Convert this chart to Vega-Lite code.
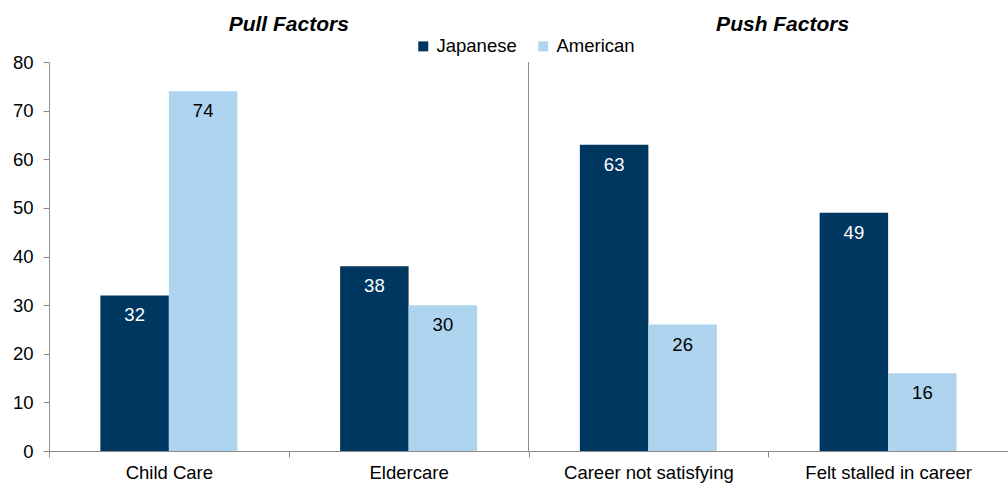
{
  "$schema": "https://vega.github.io/schema/vega-lite/v6.json",
  "width": 959,
  "height": 389,
  "autosize": {"type": "none"},
  "padding": {"left": 49, "top": 62, "right": 0, "bottom": 32},
  "background": "white",
  "config": {
    "view": {"stroke": null},
    "font": "Liberation Sans",
    "axis": {"labelFont": "Liberation Sans", "labelColor": "#000000", "domainColor": "#8c8c8c", "tickColor": "#8c8c8c", "grid": false, "title": null}
  },
  "data": {
    "values": [
      {"cat": "Child Care", "series": "Japanese", "value": 32},
      {"cat": "Child Care", "series": "American", "value": 74},
      {"cat": "Eldercare", "series": "Japanese", "value": 38},
      {"cat": "Eldercare", "series": "American", "value": 30},
      {"cat": "Career not satisfying", "series": "Japanese", "value": 63},
      {"cat": "Career not satisfying", "series": "American", "value": 26},
      {"cat": "Felt stalled in career", "series": "Japanese", "value": 49},
      {"cat": "Felt stalled in career", "series": "American", "value": 16}
    ]
  },
  "layer": [
    {
      "mark": {"type": "bar"},
      "encoding": {
        "x": {
          "field": "cat", "type": "nominal",
          "sort": ["Child Care", "Eldercare", "Career not satisfying", "Felt stalled in career"],
          "scale": {"paddingInner": 0, "paddingOuter": 0},
          "axis": {"labelAngle": 0, "labelFontSize": 18.5, "tickBand": "extent", "tickSize": 6, "labelPadding": 6, "domainColor": "#8c8c8c"}
        },
        "xOffset": {
          "field": "series", "type": "nominal",
          "sort": ["Japanese", "American"],
          "scale": {"paddingInner": 0, "paddingOuter": 0.75}
        },
        "y": {
          "field": "value", "type": "quantitative",
          "scale": {"domain": [0, 80], "nice": false},
          "axis": {"values": [0, 10, 20, 30, 40, 50, 60, 70, 80], "labelFontSize": 18.5, "tickSize": 6, "labelPadding": 10}
        },
        "color": {
          "field": "series", "type": "nominal",
          "sort": ["Japanese", "American"],
          "scale": {"domain": ["Japanese", "American"], "range": ["#003761", "#AED4F0"]},
          "legend": {
            "title": null, "orient": "none", "direction": "horizontal",
            "legendX": 365, "legendY": -25,
            "symbolType": "square", "symbolSize": 100, "symbolStrokeWidth": 0,
            "labelFontSize": 18.5, "labelFont": "Liberation Sans", "labelColor": "#000000",
            "columnPadding": 17, "labelOffset": 4
          }
        }
      }
    },
    {
      "mark": {"type": "text", "baseline": "middle", "dy": 20, "fontSize": 18.5, "font": "Liberation Sans"},
      "encoding": {
        "x": {"field": "cat", "type": "nominal", "sort": ["Child Care", "Eldercare", "Career not satisfying", "Felt stalled in career"]},
        "xOffset": {"field": "series", "type": "nominal", "sort": ["Japanese", "American"]},
        "y": {"field": "value", "type": "quantitative"},
        "text": {"field": "value", "type": "quantitative"},
        "color": {"condition": {"test": "datum.series === 'Japanese'", "value": "#ffffff"}, "value": "#000000"}
      }
    },
    {
      "data": {"values": [{"t": "sep"}]},
      "mark": {"type": "rule", "color": "#8c8c8c", "strokeWidth": 1},
      "encoding": {
        "x": {"datum": "Career not satisfying", "bandPosition": 0}
      }
    },
    {
      "data": {"values": [{"t": "Pull Factors"}]},
      "mark": {"type": "text", "fontSize": 21, "fontWeight": "bold", "fontStyle": "italic", "font": "Liberation Sans", "baseline": "middle", "dy": -37, "color": "#000000"},
      "encoding": {
        "x": {"datum": "Child Care", "bandPosition": 1},
        "y": {"datum": 80},
        "text": {"field": "t"}
      }
    },
    {
      "data": {"values": [{"t": "Push Factors"}]},
      "mark": {"type": "text", "fontSize": 21, "fontWeight": "bold", "fontStyle": "italic", "font": "Liberation Sans", "baseline": "middle", "dy": -37, "color": "#000000"},
      "encoding": {
        "x": {"datum": "Felt stalled in career", "bandPosition": 0.06},
        "y": {"datum": 80},
        "text": {"field": "t"}
      }
    }
  ]
}
